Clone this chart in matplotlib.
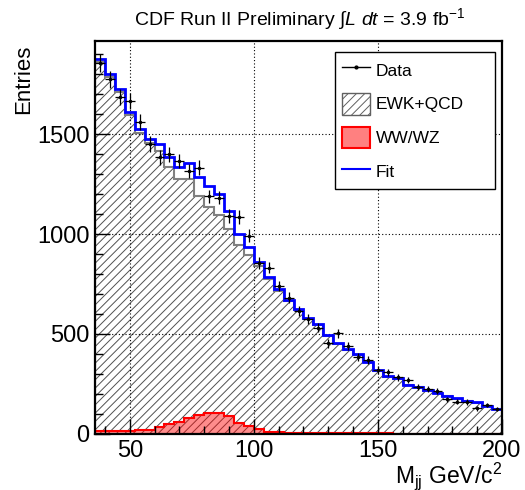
import numpy as np
import matplotlib
matplotlib.use("Agg")
import matplotlib.pyplot as plt
from matplotlib.lines import Line2D
from matplotlib.patches import Patch
from matplotlib.ticker import MultipleLocator

# ---- data ----
bin_edges = np.arange(36, 201, 4)  # 41 bins, 4 GeV wide
data = [1855, 1773, 1685, 1665, 1560, 1450, 1383, 1398, 1365, 1315,
        1332, 1188, 1182, 1090, 1085, 992, 855, 832, 740, 682,
        615, 575, 532, 453, 503, 440, 383, 370, 320, 308,
        283, 270, 237, 226, 217, 173, 162, 160, 128, 145, 125]
ewk_qcd = [1858, 1787, 1711, 1593, 1505, 1453, 1415, 1334, 1277, 1275,
           1188, 1133, 1097, 1026, 946, 897, 839, 775, 715, 663,
           619, 577, 543, 491, 449, 420, 397, 359, 317, 287,
           276, 243, 235, 216, 205, 188, 176, 165, 156, 140, 123]
ww_wz = [15, 15, 15, 15, 20, 20, 33, 50, 60, 78,
         95, 107, 103, 90, 53, 40, 23, 12, 8, 7,
         6, 5, 5, 4, 4, 3, 3, 3, 3, 3,
         2, 2, 2, 2, 2, 2, 2, 2, 2, 2, 2]
legend_labels = ["Data", "EWK+QCD", "WW/WZ", "Fit"]
title_text = r"CDF Run II Preliminary $\int$$L\ dt$ = 3.9 fb$^{-1}$"

plt.rcParams['font.family'] = ['Liberation Sans', 'DejaVu Sans']
plt.rcParams['mathtext.fontset'] = 'custom'
plt.rcParams['mathtext.rm'] = 'Liberation Sans'
plt.rcParams['mathtext.it'] = 'Liberation Sans:italic'
plt.rcParams['mathtext.bf'] = 'Liberation Sans:bold'
plt.rcParams['hatch.linewidth'] = 0.7

edges = np.array(bin_edges, dtype=float)
data = np.array(data, dtype=float)
ewk = np.array(ewk_qcd, dtype=float)
ww = np.array(ww_wz, dtype=float)
fit = ewk + ww
centers = 0.5 * (edges[:-1] + edges[1:])
halfw = 0.5 * np.diff(edges)

fig = plt.figure(figsize=(5.25, 4.9), dpi=100)
ax = fig.add_axes([95/525, 1 - 434/490, (502-95)/525, (434-41)/490])

# EWK+QCD hatched
ax.stairs(ewk, edges, fill=True, facecolor='none', edgecolor='#505050',
          hatch='////', linewidth=0, zorder=1)
ax.stairs(ewk, edges, fill=False, color='#808080', linewidth=1.5, zorder=1.2)
# WW/WZ red
ax.stairs(ww, edges, fill=True, facecolor=(1, 0, 0, 0.45), edgecolor='none',
          linewidth=0, zorder=1.4)
ax.stairs(ww, edges, fill=False, color='red', linewidth=1.5, zorder=1.5)
# Fit
ax.stairs(fit, edges, baseline=None, color='#0000ff', linewidth=2, zorder=3)
# Data
ax.errorbar(centers, data, yerr=np.sqrt(data), xerr=halfw, fmt='.',
            color='black', ms=3, lw=0.9, capsize=0, zorder=4)

ax.set_xlim(36, 200)
ax.set_ylim(0, 1965)
ax.xaxis.set_major_locator(MultipleLocator(50))
ax.xaxis.set_minor_locator(MultipleLocator(10))
ax.yaxis.set_major_locator(MultipleLocator(500))
ax.yaxis.set_minor_locator(MultipleLocator(100))
ax.tick_params(which='both', direction='in', top=False, right=False,
               labelsize=17, width=1)
ax.tick_params(which='major', length=11)
ax.tick_params(which='minor', length=6)
ax.tick_params(axis='x', pad=4)
ax.tick_params(axis='y', pad=4)
ax.set_axisbelow(False)
ax.grid(True, which='major', linestyle=(0, (1, 2)), color='black', linewidth=0.8)
for s in ax.spines.values():
    s.set_linewidth(1.6)
    s.set_zorder(5)

ax.set_ylabel("Entries", fontsize=16, loc='top')
ax.yaxis.set_label_coords(-0.15, 0.99)
ax.set_xlabel(r"M$_{\mathregular{jj}}$ GeV/c$^{2}$", fontsize=16.5, loc='right')
ax.xaxis.set_label_coords(1.0, -0.066)

fig.text(0.57, 1 - 19/490, title_text, ha='center', va='center', fontsize=14)

handles = [
    Line2D([], [], color='black', marker='.', ms=4, lw=1),
    Patch(facecolor='white', edgecolor='#606060', hatch='////', linewidth=1),
    Patch(facecolor=(1, 0.5, 0.5), edgecolor='red', linewidth=1.5),
    Line2D([], [], color='#0000ff', lw=1.5),
]
leg = ax.legend(handles, legend_labels, loc='upper left',
                bbox_to_anchor=(335/525, 1 - 209/490, 160/525, 157/490),
                bbox_transform=fig.transFigure, mode='expand',
                fontsize=12.5, frameon=True, fancybox=False, framealpha=1,
                edgecolor='black', borderpad=0.4, labelspacing=0.7,
                handlelength=1.6, handleheight=1.55, handletextpad=0.35,
                borderaxespad=0)
leg.get_frame().set_linewidth(1.0)
leg.set_zorder(6)

fig.savefig("out.png", dpi=100)
